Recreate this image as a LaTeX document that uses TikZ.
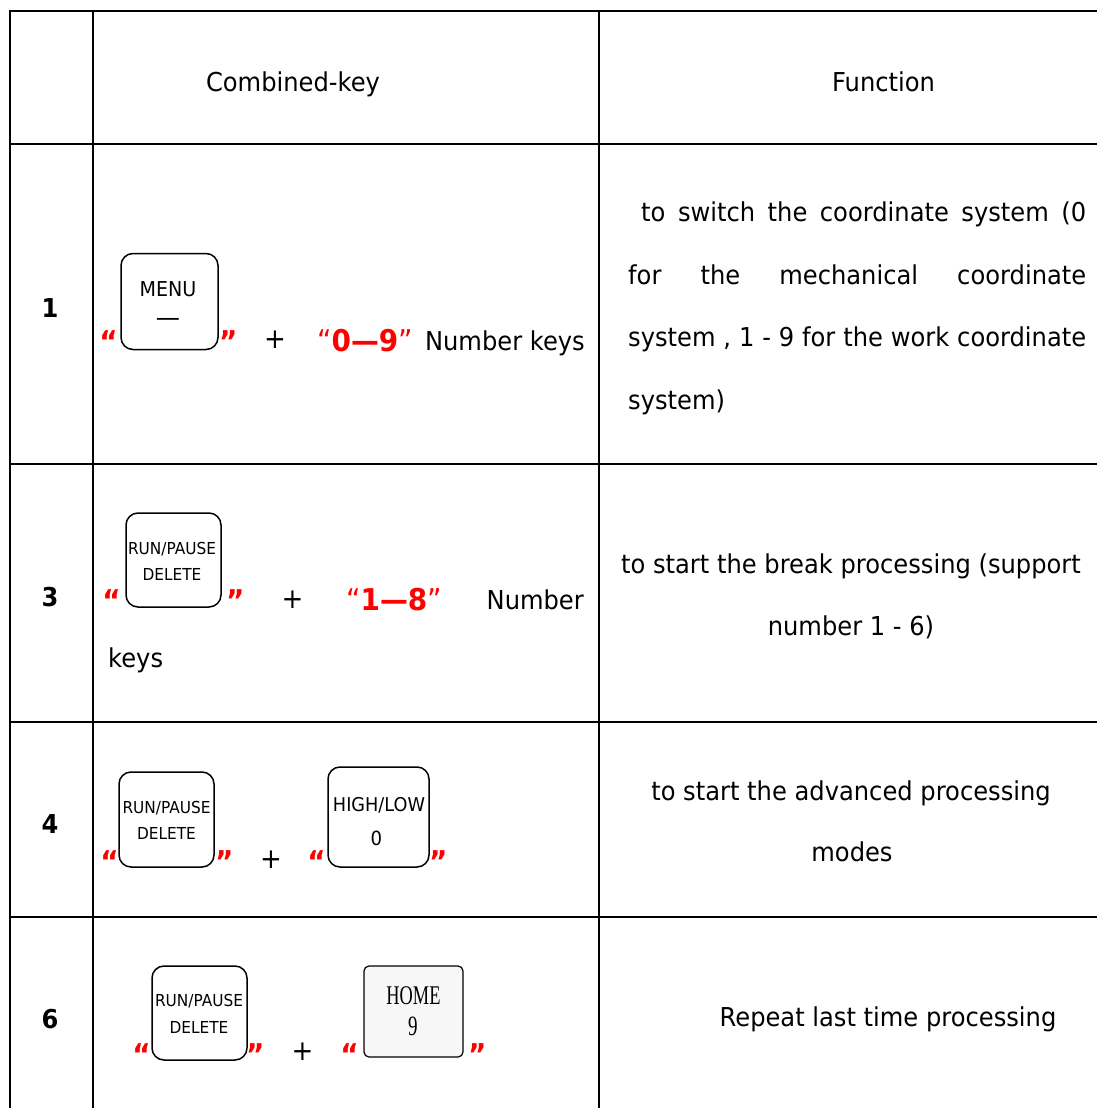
\documentclass[tikz,border=0pt]{standalone}
\usepackage{fontspec}
\setmainfont{DejaVu Sans}[FakeStretch=0.93]
\newfontfamily\homefont{Liberation Serif}[FakeStretch=0.68]
\begin{document}
\begin{tikzpicture}[x=1pt,y=-1pt,
  grid/.style={line width=2pt,black},
  txt/.style={font=\fontsize{26}{30}\selectfont,inner sep=0pt,anchor=base},
  redtxt/.style={font=\fontsize{30}{32}\selectfont,text=red,inner sep=0pt,anchor=base west},
  num/.style={font=\fontsize{26}{30}\selectfont\bfseries,inner sep=0pt,anchor=base},
  keybox/.style={draw,line width=1.5pt,rounded corners=12pt,inner sep=0pt},
  keytxt/.style={font=\fontsize{16.5}{20}\selectfont,inner sep=0pt},
  quo/.style={text=red,font=\fontsize{30}{32}\selectfont\bfseries,inner sep=0pt,anchor=base},
  plus/.style={font=\fontsize{28}{30}\selectfont,inner sep=0pt}]
\useasboundingbox (0,0) rectangle (1097,1108);
% table grid
\draw[grid] (10,1108) -- (10,11) -- (1097,11);
\draw[grid] (93,11) -- (93,1108);
\draw[grid] (599,11) -- (599,1108);
\foreach \yy in {144,464,722,917} \draw[grid] (10,\yy) -- (1097,\yy);
% header
\node[txt] (hk) at (293,91.5) {Combined-key};
\node[txt] (hf) at (883.5,91.5) {Function};
% row numbers
\node[num] (n1) at (50,317) {1};
\node[num] (n3) at (50,606) {3};
\node[num] (n4) at (50,833) {4};
\node[num] (n6) at (50,1028) {6};
% row 1
\node[keybox,minimum width=97pt,minimum height=96pt] (k1) at (169.5,301.5) {};
\node[font=\fontsize{20.5}{22}\selectfont,inner sep=0pt] (k1a) at (168,289) {MENU};
\node[font=\fontsize{26}{28}\selectfont,inner sep=0pt] (k1b) at (168,322) {—};
\node[quo,anchor=base east] (q1l) at (118,352) {“};
\node[quo,anchor=base west] (q1r) at (219,352) {”};
\node[plus] (p1) at (275,340) {+};
\node[redtxt] (r1) at (317,351) {“\textbf{0—9}”};
\node[txt,anchor=base east] (r1b) at (585,350) {Number keys};
\node[txt,anchor=base west] (f1a) at (641,221.5) {\makebox[445pt][s]{to switch the coordinate system (0}};
\node[txt,anchor=base west] (f1b) at (628,284) {\makebox[458pt][s]{for the mechanical coordinate}};
\node[txt,anchor=base west] (f1c) at (628,346.5) {\makebox[458pt][s]{system , 1 - 9 for the work coordinate}};
\node[txt,anchor=base west] (f1d) at (628,409) {system)};
% row 3
\node[keybox,minimum width=95pt,minimum height=94pt] (k3) at (173.5,560) {};
\node[keytxt] (k3a) at (172,549) {RUN/PAUSE};
\node[keytxt] (k3b) at (172,574) {DELETE};
\node[quo,anchor=base east] (q3l) at (121,611) {“};
\node[quo,anchor=base west] (q3r) at (226,611) {”};
\node[plus] (p3) at (292.5,600) {+};
\node[redtxt] (r3) at (346,610) {“\textbf{1—8}”};
\node[txt,anchor=base east] (r3b) at (584,609) {Number};
\node[txt,anchor=base west] (r3c) at (108,667) {keys};
\node[txt] (f3a) at (851,573) {to start the break processing (support};
\node[txt] (f3b) at (851,635) {number 1 - 6)};
% row 4
\node[keybox,minimum width=95pt,minimum height=95pt] (k4) at (166.5,819.5) {};
\node[keytxt] (k4a) at (166.5,808) {RUN/PAUSE};
\node[keytxt] (k4b) at (166.5,833.5) {DELETE};
\node[quo,anchor=base east] (q4l) at (119,872) {“};
\node[quo,anchor=base west] (q4r) at (215,872) {”};
\node[plus] (p4) at (271,859.5) {+};
\node[keybox,minimum width=101pt,minimum height=100pt] (k4h) at (378.5,817) {};
\node[font=\fontsize{19}{22}\selectfont,inner sep=0pt] (k4c) at (379,805) {HIGH/LOW};
\node[font=\fontsize{19.5}{22}\selectfont,inner sep=0pt] (k4d) at (376.5,838) {0};
\node[quo,anchor=base east] (q4m) at (326,872) {“};
\node[quo,anchor=base west] (q4n) at (429,872) {”};
\node[txt] (f4a) at (851,800.5) {to start the advanced processing};
\node[txt] (f4b) at (852,861.5) {modes};
% row 6
\node[keybox,minimum width=95pt,minimum height=94pt] (k6) at (199.5,1013) {};
\node[keytxt] (k6a) at (199,1001.5) {RUN/PAUSE};
\node[keytxt] (k6b) at (199,1027.5) {DELETE};
\node[quo,anchor=base east] (q6l) at (151,1065) {“};
\node[quo,anchor=base west] (q6r) at (246,1065) {”};
\node[plus] (p6) at (302.5,1052) {+};
\node[draw,line width=1.2pt,rounded corners=5pt,fill=black!3,minimum width=99pt,minimum height=91pt,inner sep=0pt] (k6h) at (413.5,1011.5) {};
\node[font=\fontsize{27}{28}\homefont,inner sep=0pt] (k6c) at (413.5,996) {HOME};
\node[font=\fontsize{28}{30}\homefont,inner sep=0pt] (k6d) at (413,1026) {9};
\node[quo,anchor=base east] (q6m) at (359,1065) {“};
\node[quo,anchor=base west] (q6n) at (468,1065) {”};
\node[txt] (f6) at (888,1026.5) {Repeat last time processing};
\end{tikzpicture}
\end{document}
